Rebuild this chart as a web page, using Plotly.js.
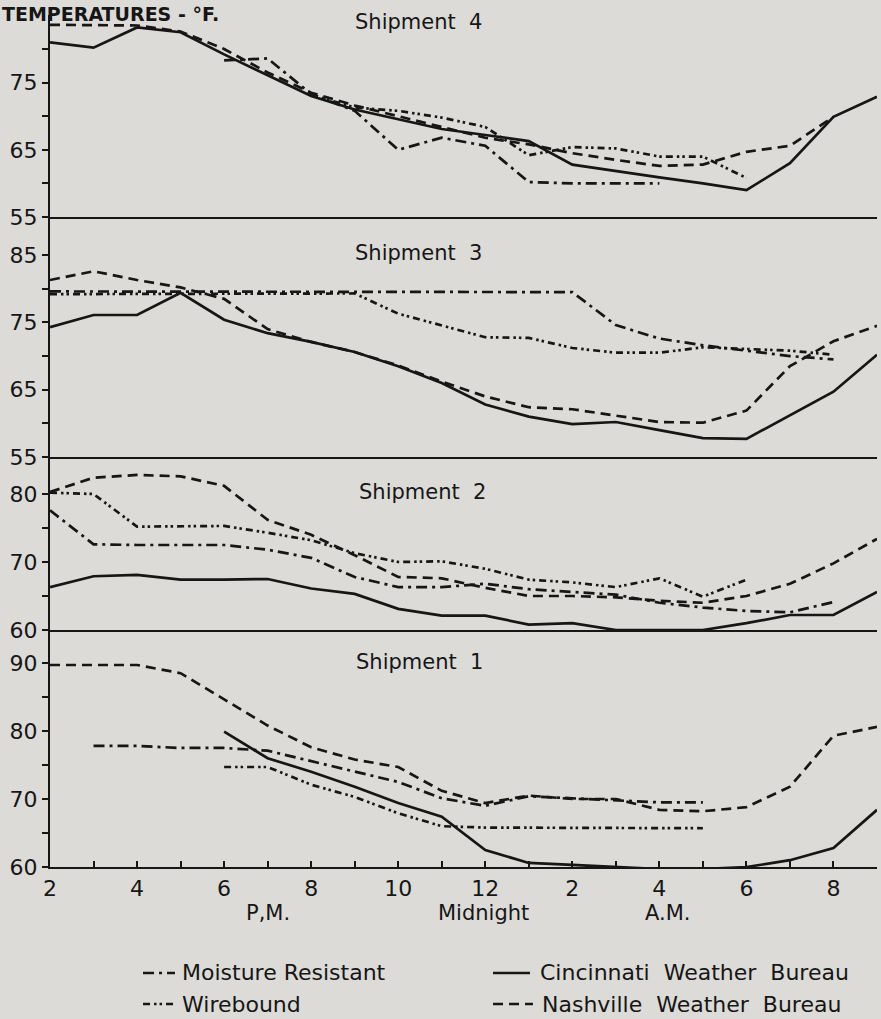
<!DOCTYPE html>
<html><head><meta charset="utf-8">
<script src="https://cdn.plot.ly/plotly-3.0.1.min.js"></script>
<style>html,body{margin:0;padding:0;background:#dcdbd7}</style>
</head><body>
<div id="chart" style="width:881px;height:1019px"></div>
<script>
// hours: 14 = 2 P.M. ... 24 = midnight ... 33 = 9 A.M.
const hours = [14,15,16,17,18,19,20,21,22,23,24,25,26,27,28,29,30,31,32,33];
const tickHours = [14,15,16,17,18,19,20,21,22,23,24,25,26,27,28,29,30,31,32,33];
const tickText = ['2','','4','','6','','8','','10','','12','','2','','4','','6','','8',''];

// Shipment 4
const cin4   = [81, 80.2, 83.2, 82.5, 79.2, 76.1, 73, 71, 69.5, 68.1, 67.2, 66.3, 62.8, 61.8, 60.9, 60, 59, 63, 69.9, 72.9];
const nash4Hours = [14,15,16,17,18,19,20,21,22,23,24,25,26,27,28,29,30,31,32];
const nash4  = [83.6, 83.6, 83.5, 82.6, 80, 76.5, 73.5, 71.6, 70, 68.4, 66.8, 65.8, 64.5, 63.5, 62.6, 62.8, 64.7, 65.6, 69.9];
const moist4Hours = [18,19,20,21,22,23,24,25,26,27,28];
const moist4 = [78.3, 78.6, 73.3, 70.8, 65, 66.8, 65.6, 60.2, 60, 60, 60];
const wire4Hours = [20,21,22,23,24,25,26,27,28,29,30];
const wire4  = [73.2, 71.3, 70.8, 69.8, 68.4, 64.2, 65.4, 65.2, 64, 64, 60.8];

// Shipment 3
const cin3   = [74.3, 76.1, 76.1, 79.4, 75.4, 73.4, 72.1, 70.6, 68.5, 66, 62.8, 61, 59.9, 60.2, 59, 57.8, 57.7, 61.2, 64.7, 70.2];
const nash3  = [81.3, 82.6, 81.3, 80.2, 78.5, 74, 72.1, 70.6, 68.6, 66.2, 64, 62.4, 62.1, 61.1, 60.2, 60.1, 61.9, 68.5, 72.2, 74.5];
const moist3Hours = [14,15,16,17,18,19,20,21,22,23,24,25,26,27,28,29,30,31,32];
const moist3 = [79.6, 79.6, 79.6, 79.6, 79.6, 79.6, 79.6, 79.6, 79.6, 79.6, 79.6, 79.6, 79.5, 74.6, 72.6, 71.6, 70.8, 70, 69.5];
const wire3Hours = [14,15,16,17,18,19,20,21,22,23,24,25,26,27,28,29,30,31,32];
const wire3  = [79.2, 79.2, 79.2, 79.2, 79.2, 79.2, 79.2, 79.3, 76.3, 74.6, 72.8, 72.7, 71.2, 70.5, 70.5, 71.3, 71.1, 70.8, 70.2];

// Shipment 2
const cin2   = [66.3, 67.9, 68.1, 67.4, 67.4, 67.5, 66.1, 65.3, 63.1, 62.1, 62.1, 60.8, 61, 60, 60, 60, 61, 62.2, 62.2, 65.6];
const nash2  = [80.3, 82.4, 82.8, 82.6, 81.2, 76.2, 74, 71, 67.8, 67.6, 66.2, 65, 65, 64.8, 64.3, 64, 65, 66.8, 69.8, 73.4];
const moist2Hours = [14,15,16,17,18,19,20,21,22,23,24,25,26,27,28,29,30,31,32];
const moist2 = [77.6, 72.6, 72.5, 72.5, 72.5, 71.8, 70.6, 67.8, 66.3, 66.3, 66.8, 66, 65.6, 65.2, 64, 63.3, 62.8, 62.6, 64.1];
const wire2Hours = [14,15,16,17,18,19,20,21,22,23,24,25,26,27,28,29,30];
const wire2  = [80.2, 80, 75.2, 75.2, 75.3, 74.3, 73.2, 71.3, 70, 70.1, 69, 67.4, 67, 66.3, 67.6, 64.9, 67.4];

// Shipment 1
const nash1  = [89.7, 89.7, 89.7, 88.5, 84.6, 80.8, 77.6, 75.8, 74.7, 71.2, 69.4, 70.5, 70, 70, 68.4, 68.2, 68.8, 71.8, 79.3, 80.6];
const cin1Hours = [18,19,20,21,22,23,24,25,26,27,28,29,30,31,32,33];
const cin1   = [79.9, 76, 74, 71.8, 69.4, 67.4, 62.5, 60.6, 60.3, 60, 59.7, 59.7, 60, 61, 62.8, 68.4];
const moist1Hours = [15,16,17,18,19,20,21,22,23,24,25,26,27,28,29];
const moist1 = [77.8, 77.8, 77.5, 77.5, 77.1, 75.6, 74.1, 72.5, 70.1, 69, 70.4, 70.1, 69.9, 69.5, 69.5];
const wire1Hours = [18,19,20,21,22,23,24,25,26,27,28,29];
const wire1  = [74.7, 74.7, 72.1, 70.3, 67.9, 66, 65.8, 65.8, 65.8, 65.8, 65.7, 65.7];

const seriesNames = ['Moisture Resistant', 'Wirebound', 'Cincinnati Weather Bureau', 'Nashville Weather Bureau'];

const INK = '#161616';
const W = 2.7;
const styles = {
  cin:   {color: INK, width: W, dash: 'solid'},
  nash:  {color: INK, width: W, dash: '10px,6px'},
  moist: {color: INK, width: W, dash: '11px,5px,3px,5px'},
  wire:  {color: INK, width: W, dash: '7px,4px,2.5px,3px,2.5px,4px'}
};

function tr(x, y, key, xa, ya) {
  return {x: x, y: y, type: 'scatter', mode: 'lines', line: styles[key],
          xaxis: xa, yaxis: ya, showlegend: false, hoverinfo: 'skip'};
}

const data = [
  tr(hours, cin4, 'cin', 'x4', 'y4'),
  tr(nash4Hours, nash4, 'nash', 'x4', 'y4'),
  tr(moist4Hours, moist4, 'moist', 'x4', 'y4'),
  tr(wire4Hours, wire4, 'wire', 'x4', 'y4'),
  tr(hours, cin3, 'cin', 'x3', 'y3'),
  tr(hours, nash3, 'nash', 'x3', 'y3'),
  tr(moist3Hours, moist3, 'moist', 'x3', 'y3'),
  tr(wire3Hours, wire3, 'wire', 'x3', 'y3'),
  tr(hours, cin2, 'cin', 'x2', 'y2'),
  tr(hours, nash2, 'nash', 'x2', 'y2'),
  tr(moist2Hours, moist2, 'moist', 'x2', 'y2'),
  tr(wire2Hours, wire2, 'wire', 'x2', 'y2'),
  tr(cin1Hours, cin1, 'cin', 'x', 'y'),
  tr(hours, nash1, 'nash', 'x', 'y'),
  tr(moist1Hours, moist1, 'moist', 'x', 'y'),
  tr(wire1Hours, wire1, 'wire', 'x', 'y')
];

const FONT = 'DejaVu Sans, Verdana, sans-serif';
const tickFont = {family: FONT, size: 22, color: INK};

function yax(domain, range, vals, texts) {
  return {domain: domain, range: range, anchor: 'x', showline: true, linewidth: 2.2, linecolor: INK,
          ticks: 'outside', ticklen: 6, tickwidth: 2, tickcolor: INK,
          tickvals: vals, ticktext: texts, tickfont: tickFont,
          showgrid: false, zeroline: false, fixedrange: true};
}
function xsub(anchor) {
  return {domain: [0, 1], range: [14, 33], anchor: anchor, showline: true, linewidth: 2.2, linecolor: INK,
          ticks: '', showticklabels: false, showgrid: false, zeroline: false, fixedrange: true};
}

const layout = {
  width: 881, height: 1019,
  margin: {l: 50, r: 4, t: 15, b: 152},
  paper_bgcolor: '#dcdbd7', plot_bgcolor: '#dcdbd7',
  font: {family: FONT, color: INK},
  showlegend: false,
  xaxis: {domain: [0, 1], range: [14, 33], anchor: 'y', showline: true, linewidth: 2.2, linecolor: INK,
          ticks: 'inside', ticklen: 6, tickwidth: 2, tickcolor: INK,
          tickvals: tickHours, ticktext: tickText, tickfont: tickFont,
          showgrid: false, zeroline: false, fixedrange: true},
  xaxis2: xsub('y2'), xaxis3: xsub('y3'), xaxis4: xsub('y4'),
  yaxis:  yax([0, 0.2782], [60, 94.85], [60,65,70,75,80,85,90], ['60','','70','','80','','90']),
  yaxis2: yax([0.2782, 0.4812], [60, 85.44], [60,65,70,75,80], ['60','','70','','80']),
  yaxis3: yax([0.4812, 0.7629], [55, 90.66], [55,60,65,70,75,80,85], ['55','','65','','75','','85']),
  yaxis4: yax([0.7629, 1], [55, 85.06], [55,60,65,70,75,80], ['55','','65','','75','']),
  annotations: [
    {text: '<b>TEMPERATURES - °F.</b>', xref: 'paper', yref: 'paper', x: -0.061, y: 1.0166, xanchor: 'left', yanchor: 'top', showarrow: false, font: {family: FONT, size: 19, color: INK}},
    {text: 'Shipment\u00a0 4', xref: 'paper', yref: 'paper', x: 0.445, y: 0.9918, xanchor: 'center', yanchor: 'middle', showarrow: false, font: {family: FONT, size: 21, color: INK}},
    {text: 'Shipment\u00a0 3', xref: 'paper', yref: 'paper', x: 0.445, y: 0.7207, xanchor: 'center', yanchor: 'middle', showarrow: false, font: {family: FONT, size: 21, color: INK}},
    {text: 'Shipment\u00a0 2', xref: 'paper', yref: 'paper', x: 0.451, y: 0.4401, xanchor: 'center', yanchor: 'middle', showarrow: false, font: {family: FONT, size: 21, color: INK}},
    {text: 'Shipment\u00a0 1', xref: 'paper', yref: 'paper', x: 0.447, y: 0.2406, xanchor: 'center', yanchor: 'middle', showarrow: false, font: {family: FONT, size: 21, color: INK}},
    {text: 'P,M.', xref: 'paper', yref: 'paper', x: 0.2636, y: -0.054, xanchor: 'center', yanchor: 'middle', showarrow: false, font: {family: FONT, size: 21, color: INK}},
    {text: 'Midnight', xref: 'paper', yref: 'paper', x: 0.5236, y: -0.054, xanchor: 'center', yanchor: 'middle', showarrow: false, font: {family: FONT, size: 21, color: INK}},
    {text: 'A.M.', xref: 'paper', yref: 'paper', x: 0.747, y: -0.054, xanchor: 'center', yanchor: 'middle', showarrow: false, font: {family: FONT, size: 21, color: INK}},
    {text: seriesNames[0], xref: 'paper', yref: 'paper', x: 0.1572, y: -0.1244, xanchor: 'left', yanchor: 'middle', showarrow: false, font: {family: FONT, size: 22, color: INK}},
    {text: seriesNames[1], xref: 'paper', yref: 'paper', x: 0.1572, y: -0.1608, xanchor: 'left', yanchor: 'middle', showarrow: false, font: {family: FONT, size: 22, color: INK}},
    {text: seriesNames[2].replace(/ /g, '\u00a0 '), xref: 'paper', yref: 'paper', x: 0.5901, y: -0.1244, xanchor: 'left', yanchor: 'middle', showarrow: false, font: {family: FONT, size: 22, color: INK}},
    {text: seriesNames[3].replace(/ /g, '\u00a0 '), xref: 'paper', yref: 'paper', x: 0.5925, y: -0.1608, xanchor: 'left', yanchor: 'middle', showarrow: false, font: {family: FONT, size: 22, color: INK}}
  ],
  shapes: [
    {type: 'line', xref: 'paper', yref: 'paper', x0: 0.1125, x1: 0.1511, y0: -0.1244, y1: -0.1244, line: styles.moist},
    {type: 'line', xref: 'paper', yref: 'paper', x0: 0.1125, x1: 0.1511, y0: -0.1608, y1: -0.1608, line: styles.wire},
    {type: 'line', xref: 'paper', yref: 'paper', x0: 0.5357, x1: 0.5804, y0: -0.1244, y1: -0.1244, line: styles.cin},
    {type: 'line', xref: 'paper', yref: 'paper', x0: 0.5357, x1: 0.584, y0: -0.1608, y1: -0.1608, line: styles.nash}
  ]
};

Plotly.newPlot('chart', data, layout, {staticPlot: true, displayModeBar: false});
</script>
</body></html>
